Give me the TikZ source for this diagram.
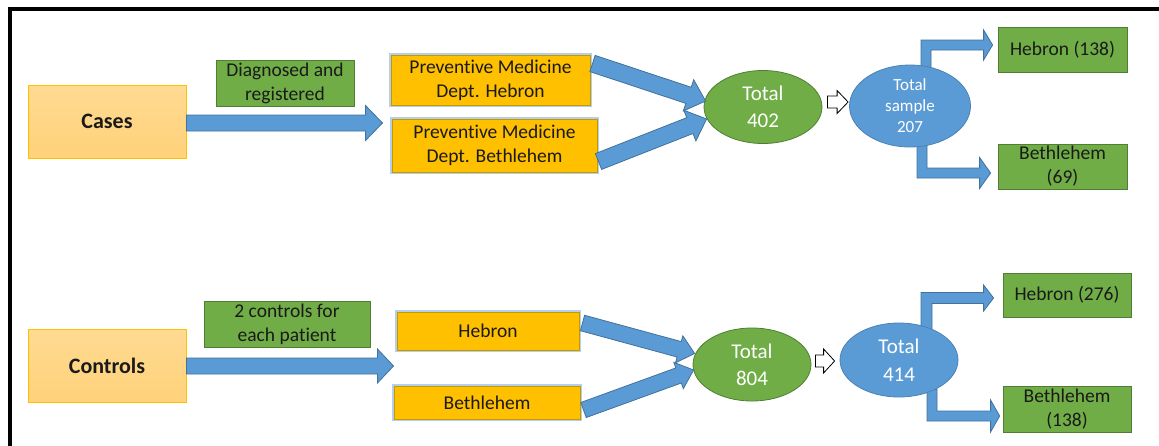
\documentclass[tikz,border=0pt]{standalone}
\usepackage{fontspec}
\setmainfont[Ligatures=NoCommon]{Carlito}
\usetikzlibrary{calc,shapes.geometric,backgrounds}
\definecolor{cgreen}{HTML}{70AD47}
\definecolor{cgreenD}{HTML}{507E32}
\definecolor{corange}{HTML}{FFC000}
\definecolor{corangeD}{HTML}{C49A00}
\definecolor{cblue}{HTML}{5B9BD5}
\definecolor{cblueD}{HTML}{41719C}
\definecolor{clight}{HTML}{FFDA92}
\definecolor{clight2}{HTML}{FFD27A}
\definecolor{cglow}{HTML}{B4CFF0}
\definecolor{ctext}{HTML}{1A1A1A}
\tikzset{
  startbox/.style={rectangle, draw=corange, line width=1pt, top color=clight, bottom color=clight2,
    text=ctext, font=\fontsize{22}{26}\selectfont\bfseries, inner sep=0pt},
  notebox/.style={rectangle, draw=cgreenD, line width=0.8pt, fill=cgreen, text=ctext,
    font=\fontsize{19.5}{24}\selectfont, align=center, inner sep=0pt},
  deptbox/.style={rectangle, preaction={draw=cglow, line width=4pt}, draw=corangeD, line width=1pt,
    fill=corange, text=ctext, font=\fontsize{19.5}{24}\selectfont, align=center, inner sep=0pt},
  totalell/.style={ellipse, draw=cgreenD, line width=0.8pt, fill=cgreen, text=white,
    font=\fontsize{21}{27}\selectfont, align=center, inner sep=0pt},
  sampleell/.style={ellipse, draw=cblueD!60!cblue, line width=0.8pt, fill=cblue, text=white,
    align=center, inner sep=0pt},
  blockarr/.style={fill=cblue, draw=cblueD, line width=0.8pt, line join=miter},
  hollowarr/.style={fill=white, draw=black, line width=0.8pt, line join=miter},
  frameline/.style={line width=3.5pt, draw=black, line join=miter}
}
% style, A, B, half shaft, half head, head length
\newcommand{\blockarrow}[6]{%
  \coordinate (bah) at ($(#3)!#6!(#2)$);
  \path[#1] ($(#2)!#4!90:(#3)$) -- ($(bah)!#4!-90:(#2)$) -- ($(bah)!#5!-90:(#2)$) -- (#3)
    -- ($(bah)!#5!90:(#2)$) -- ($(bah)!#4!90:(#2)$) -- ($(#2)!#4!-90:(#3)$) -- cycle;}
% style, start, tip, dir(1 up,-1 down), half shaft, half head, head length
\newcommand{\elbowarrow}[7]{%
  \path[#1] let \p1=(#2), \p2=(#3) in
    ({\x1-#5},\y1) -- ({\x1-#5},{\y2+(#4)*#5}) -- ({\x2-#7},{\y2+(#4)*#5})
    -- ({\x2-#7},{\y2+(#4)*#6}) -- (\x2,\y2) -- ({\x2-#7},{\y2-(#4)*#6})
    -- ({\x2-#7},{\y2-(#4)*#5}) -- ({\x1+#5},{\y2-(#4)*#5}) -- ({\x1+#5},\y1) -- cycle;}
\begin{document}
\begin{tikzpicture}[x=1pt,y=-1pt]
\useasboundingbox (0,0) rectangle (1159,445);
\draw[frameline] (1160,9) -- (10,9) -- (10,446);

% ---------- Cases ----------
\node[startbox, minimum width=158pt, minimum height=73pt] (cases) at (107,121.5) {Cases};
\node[notebox, minimum width=138pt, minimum height=46pt] (diag) at (285,83) {Diagnosed and\\registered};
\node[deptbox, minimum width=199pt, minimum height=50pt] (pmh) at (490.5,80) {Preventive Medicine\\Dept. Hebron};
\node[deptbox, minimum width=205pt, minimum height=53pt] (pmb) at (494.5,145.5) {Preventive Medicine\\Dept. Bethlehem};
\node[totalell, minimum width=118pt, minimum height=73pt] (t402) at (763,107) {Total\\402};
\node[sampleell, minimum width=121pt, minimum height=82pt, font=\fontsize{17}{21}\selectfont] (ts207) at (910,106) {Total\\sample\\207};
\node[notebox, minimum width=129pt, minimum height=45pt] (h138) at (1062.5,49.5) {Hebron (138)};
\node[notebox, minimum width=129pt, minimum height=45pt] (b69) at (1062.5,166.5) {Bethlehem\\(69)};

% ---------- Controls ----------
\node[startbox, minimum width=158pt, minimum height=73pt] (controls) at (107,365.5) {Controls};
\node[notebox, minimum width=166pt, minimum height=46pt] (twoc) at (287,324) {2 controls for\\each patient};
\node[deptbox, minimum width=182pt, minimum height=38pt] (heb) at (488,331) {Hebron};
\node[deptbox, minimum width=186pt, minimum height=33pt] (beth) at (487,402.5) {Bethlehem};
\node[totalell, minimum width=118pt, minimum height=73pt] (t804) at (752,364.5) {Total\\804};
\node[sampleell, minimum width=118pt, minimum height=74pt, font=\fontsize{21}{28}\selectfont] (t414) at (899,360) {Total\\414};
\node[notebox, minimum width=128pt, minimum height=44pt] (h276) at (1067,295) {Hebron (276)};
\node[notebox, minimum width=128pt, minimum height=46pt] (b138) at (1067,409) {Bethlehem\\(138)};

% ---------- straight block arrows ----------
\coordinate (a1s) at ($(cases.east)+(0,1.5)$);
\coordinate (a1t) at ($(a1s -| pmb.west)+(-9,0)$);
\blockarrow{blockarr}{a1s}{a1t}{8pt}{17.5pt}{17pt}

\coordinate (a2s) at ($(pmh.north east)+(2,9)$);
\coordinate (a2t) at ($(t402.west)+(2,-6)$);
\blockarrow{blockarr}{a2s}{a2t}{8.5pt}{16.5pt}{18pt}
\coordinate (a3s) at ($(pmb.south east)+(1,-11)$);
\coordinate (a3t) at ($(t402.west)+(3,12)$);
\blockarrow{blockarr}{a3s}{a3t}{8.5pt}{16.5pt}{18pt}

\coordinate (a4s) at ($(controls.east)+(0,0.5)$);
\coordinate (a4t) at ($(a4s -| heb.west)+(-3,0)$);
\blockarrow{blockarr}{a4s}{a4t}{8pt}{17pt}{16pt}

\coordinate (a5s) at ($(heb.east)+(3,-8)$);
\coordinate (a5t) at ($(t804.west)+(2,-11)$);
\blockarrow{blockarr}{a5s}{a5t}{8pt}{14pt}{16pt}
\coordinate (a6s) at ($(beth.east)+(3,7.5)$);
\coordinate (a6t) at ($(t804.west)+(1,5.5)$);
\blockarrow{blockarr}{a6s}{a6t}{8pt}{14pt}{16pt}

% ---------- hollow arrows ----------
\coordinate (h1s) at ($(t402.east)+(5,-5)$);
\coordinate (h1t) at ($(h1s -| ts207.west)+(-1,0)$);
\blockarrow{hollowarr}{h1s}{h1t}{6pt}{11.5pt}{11pt}
\coordinate (h2s) at ($(t804.east)+(4,-3.5)$);
\coordinate (h2t) at ($(h2s -| t414.west)+(-5,0)$);
\blockarrow{hollowarr}{h2s}{h2t}{6pt}{12pt}{11pt}

% ---------- elbow arrows (behind ellipses) ----------
\begin{scope}[on background layer]
\coordinate (e1s) at ($(ts207.north)+(16,8)$);
\coordinate (e1t) at ($(h138.west)+(-5,-4.5)$);
\elbowarrow{blockarr}{e1s}{e1t}{1}{5pt}{15pt}{9pt}
\coordinate (e2s) at ($(ts207.south)+(12,-8)$);
\coordinate (e2t) at ($(b69.west)+(-7,6.5)$);
\elbowarrow{blockarr}{e2s}{e2t}{-1}{5pt}{15.5pt}{11pt}
\coordinate (e3s) at ($(t414.north)+(27.5,8)$);
\coordinate (e3t) at ($(h276.west)+(-9,3)$);
\elbowarrow{blockarr}{e3s}{e3t}{1}{5.5pt}{13pt}{10pt}
\coordinate (e4s) at ($(t414.south)+(33,-8)$);
\coordinate (e4t) at ($(b138.west)+(-3,7)$);
\elbowarrow{blockarr}{e4s}{e4t}{-1}{5pt}{16pt}{9pt}
\end{scope}
\end{tikzpicture}
\end{document}
